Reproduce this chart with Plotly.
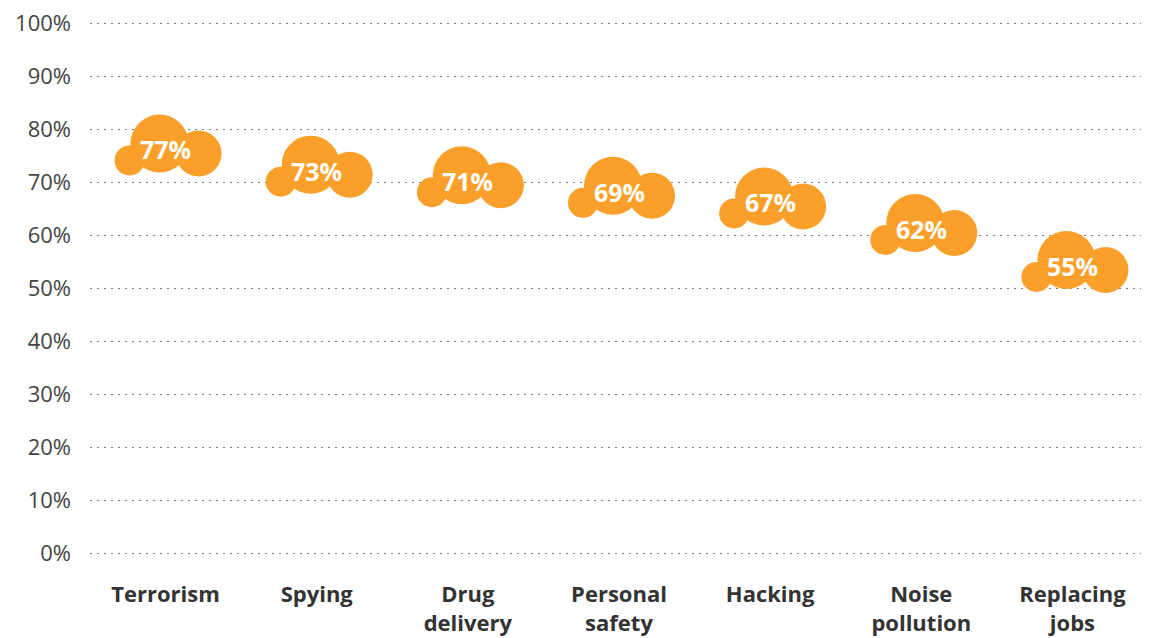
import plotly.graph_objects as go

categories = ["Terrorism", "Spying", "Drug<br>delivery", "Personal<br>safety", "Hacking", "Noise<br>pollution", "Replacing<br>jobs"]
values = [77, 73, 71, 69, 67, 62, 55]
y_ticks = [0, 10, 20, 30, 40, 50, 60, 70, 80, 90, 100]

ORANGE = "#F99F2A"
FONT = "Open Sans"

x_idx = list(range(len(categories)))

fig = go.Figure()
fig.add_trace(go.Scatter(x=x_idx, y=values, mode="markers",
                         marker=dict(size=1, opacity=0), hoverinfo="skip", showlegend=False))

# cloud circles: (dx, dy, r) in pixels relative to the value point
circles = [(-36, -15, 15), (-6, 2, 29), (33, -8, 23)]
shapes = []
for i, v in zip(x_idx, values):
    for dx, dy, r in circles:
        shapes.append(dict(type="circle", xref="x", yref="y",
                           xsizemode="pixel", ysizemode="pixel",
                           xanchor=i, yanchor=v,
                           x0=dx - r, x1=dx + r, y0=dy - r, y1=dy + r,
                           fillcolor=ORANGE, line=dict(width=0), layer="above"))

annotations = []
for i, v in zip(x_idx, values):
    annotations.append(dict(x=i, y=v, xref="x", yref="y", text=f"<b>{v}%</b>",
                            showarrow=False, yshift=-4,
                            font=dict(family=FONT, size=25, color="white")))

fig.update_layout(
    width=1141, height=630,
    margin=dict(l=82, r=1, t=14, b=83),
    paper_bgcolor="white", plot_bgcolor="white",
    shapes=shapes, annotations=annotations,
    showlegend=False,
    xaxis=dict(range=[-0.5, len(categories) - 0.5], tickvals=x_idx,
               ticktext=[f"<b>{c}</b>" for c in categories],
               showgrid=False, zeroline=False, showline=False, automargin=False,
               tickfont=dict(family=FONT, size=22, color="#333333"),
               ticks="", ticklabelstandoff=24, fixedrange=True),
    yaxis=dict(range=[-0.3, 100.3], tickvals=y_ticks,
               ticktext=[f"{t}%" for t in y_ticks],
               showgrid=True, gridcolor="#7a7a7a", griddash="2px,5px", gridwidth=1,
               zeroline=False, showline=False, ticks="", automargin=False,
               ticklabelstandoff=18, ticklabeloverflow="allow",
               tickfont=dict(family=FONT, size=22, color="#444444"), fixedrange=True),
)

fig.write_html("out.html")
